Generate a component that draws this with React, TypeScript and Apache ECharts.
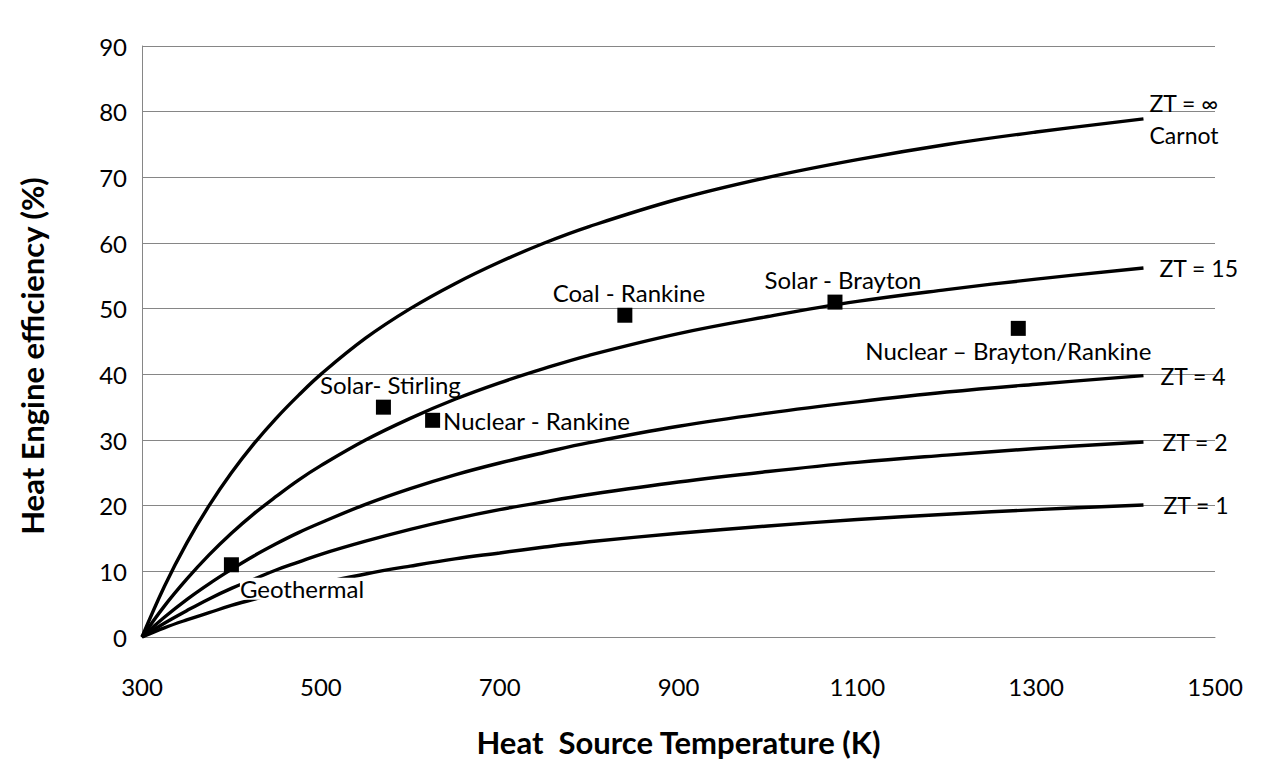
import React, { useEffect, useRef } from "react";
import * as echarts from "echarts";

// Heat source temperature (K) sample points
const temps = [300, 325, 350, 375, 400, 425, 450, 475, 500, 550, 600, 650, 700, 750, 800, 900, 1000, 1100, 1200, 1300, 1420];
// Efficiency (%)
const carnot = [0, 7.7, 14.3, 20.0, 25.0, 29.4, 33.3, 36.8, 40.0, 45.5, 50.0, 53.8, 57.1, 60.0, 62.5, 66.7, 70.0, 72.7, 75.0, 76.9, 78.9];
const zt15 = [0, 4.7, 8.8, 12.5, 15.8, 18.75, 21.4, 23.9, 26.1, 30.0, 33.3, 36.2, 38.7, 40.9, 42.9, 46.2, 48.8, 51.1, 52.9, 54.5, 56.2];
const zt4 = [0, 3.0, 5.7, 8.1, 10.3, 12.35, 14.2, 15.9, 17.4, 20.2, 22.6, 24.7, 26.5, 28.1, 29.6, 32.1, 34.1, 35.8, 37.3, 38.5, 39.8];
const zt2 = [0, 2.1, 4.0, 5.8, 7.4, 8.8, 10.2, 11.4, 12.6, 14.6, 16.4, 18.0, 19.4, 20.6, 21.7, 23.6, 25.2, 26.6, 27.7, 28.7, 29.7];
const zt1 = [0, 1.4, 2.6, 3.7, 4.8, 5.75, 6.6, 7.45, 8.2, 9.6, 10.8, 11.9, 12.8, 13.7, 14.5, 15.8, 16.9, 17.9, 18.7, 19.4, 20.1];

const curveNames = ["ZT = ∞\nCarnot", "ZT = 15", "ZT = 4", "ZT = 2", "ZT = 1"];
const curveValues = [carnot, zt15, zt4, zt2, zt1];

// Heat engines
const engineNames = [
  "Geothermal",
  "Solar- Stirling",
  "Nuclear - Rankine",
  "Coal - Rankine",
  "Solar - Brayton",
  "Nuclear – Brayton/Rankine",
];
const engineTemps = [400, 570, 625, 840, 1075, 1280];
const engineEffs = [11, 35, 33, 49, 51, 47];

// Axis ticks
const xMin = 300, xMax = 1500, xStep = 200;
const yMin = 0, yMax = 90, yStep = 10;

const xTitle = "Heat  Source Temperature (K)";
const yTitle = "Heat Engine efficiency (%)";

const FONT = "Lato, 'Open Sans', sans-serif";

// label placement styles (not data)
const endLabelDistance = [6, 16, 17, 19, 20];
const engineLabelStyle: any[] = [
  { position: "right", distance: 1, offset: [0, 24], backgroundColor: "#ffffff", padding: [0, 0, 0, 0], lineHeight: 22 },
  { position: "top", distance: 3, offset: [7, 0] },
  { position: "right", distance: 3, offset: [0, 0] },
  { position: "top", distance: 3, offset: [4, 0] },
  { position: "top", distance: 3, offset: [8, 0] },
  { position: "bottom", distance: 3, offset: [-10, 0] },
];

export default function App() {
  const ref = useRef<HTMLDivElement>(null);
  useEffect(() => {
    if (!ref.current) return;
    const chart = echarts.init(ref.current, undefined, { renderer: "svg" });
    const lineSeries = curveNames.map((name, i) => ({
      type: "line",
      name,
      data: temps.map((t, j) => [t, curveValues[i][j]]),
      smooth: 0.4,
      showSymbol: false,
      symbol: "none",
      lineStyle: { color: "#000000", width: 3.4 },
      z: 2,
      endLabel: {
        show: true,
        formatter: name,
        distance: endLabelDistance[i],
        color: "#000000",
        fontSize: 23,
        fontFamily: FONT,
        lineHeight: 32,
        align: "left",
      },
      emphasis: { disabled: true },
    }));
    const scatter = {
      type: "scatter",
      symbol: "rect",
      symbolSize: 15,
      itemStyle: { color: "#000000", opacity: 1 },
      z: 5,
      data: engineNames.map((n, i) => ({
        name: n,
        value: [engineTemps[i], engineEffs[i]],
        label: {
          show: true,
          formatter: n,
          color: "#000000",
          opacity: 1,
          fontSize: 24,
          fontFamily: FONT,
          ...engineLabelStyle[i],
        },
      })),
      emphasis: { disabled: true },
    };
    chart.setOption({
      animation: false,
      backgroundColor: "#ffffff",
      grid: { left: 142, right: 53, top: 46, bottom: 135, containLabel: false },
      xAxis: {
        type: "value",
        min: xMin,
        max: xMax,
        interval: xStep,
        axisLine: { show: true, lineStyle: { color: "#868686", width: 1 } },
        axisTick: { show: false },
        splitLine: { show: false },
        axisLabel: {
          color: "#000000",
          fontSize: 24,
          fontFamily: FONT,
          margin: 37,
          formatter: (v: number) => String(v),
        },
        name: xTitle,
        nameLocation: "middle",
        nameGap: 89,
        nameTextStyle: { color: "#000000", fontSize: 31, fontWeight: "bold", fontFamily: FONT },
      },
      yAxis: {
        type: "value",
        min: yMin,
        max: yMax,
        interval: yStep,
        axisLine: { show: true, lineStyle: { color: "#868686", width: 1 } },
        axisTick: { show: false },
        splitLine: { show: true, lineStyle: { color: "#868686", width: 1 } },
        axisLabel: { color: "#000000", fontSize: 24, fontFamily: FONT, margin: 15 },
      },
      graphic: [
        {
          type: "text",
          x: 32,
          y: 356,
          rotation: Math.PI / 2,
          style: {
            text: yTitle,
            fill: "#000000",
            font: `bold 31px ${FONT}`,
            align: "center",
            verticalAlign: "middle",
          },
        },
      ],
      series: [...lineSeries, scatter],
    });
    return () => chart.dispose();
  }, []);
  return (
    <div
      ref={ref}
      style={{ position: "fixed", left: 0, top: 0, width: 1268, height: 772, background: "#fff" }}
    />
  );
}
